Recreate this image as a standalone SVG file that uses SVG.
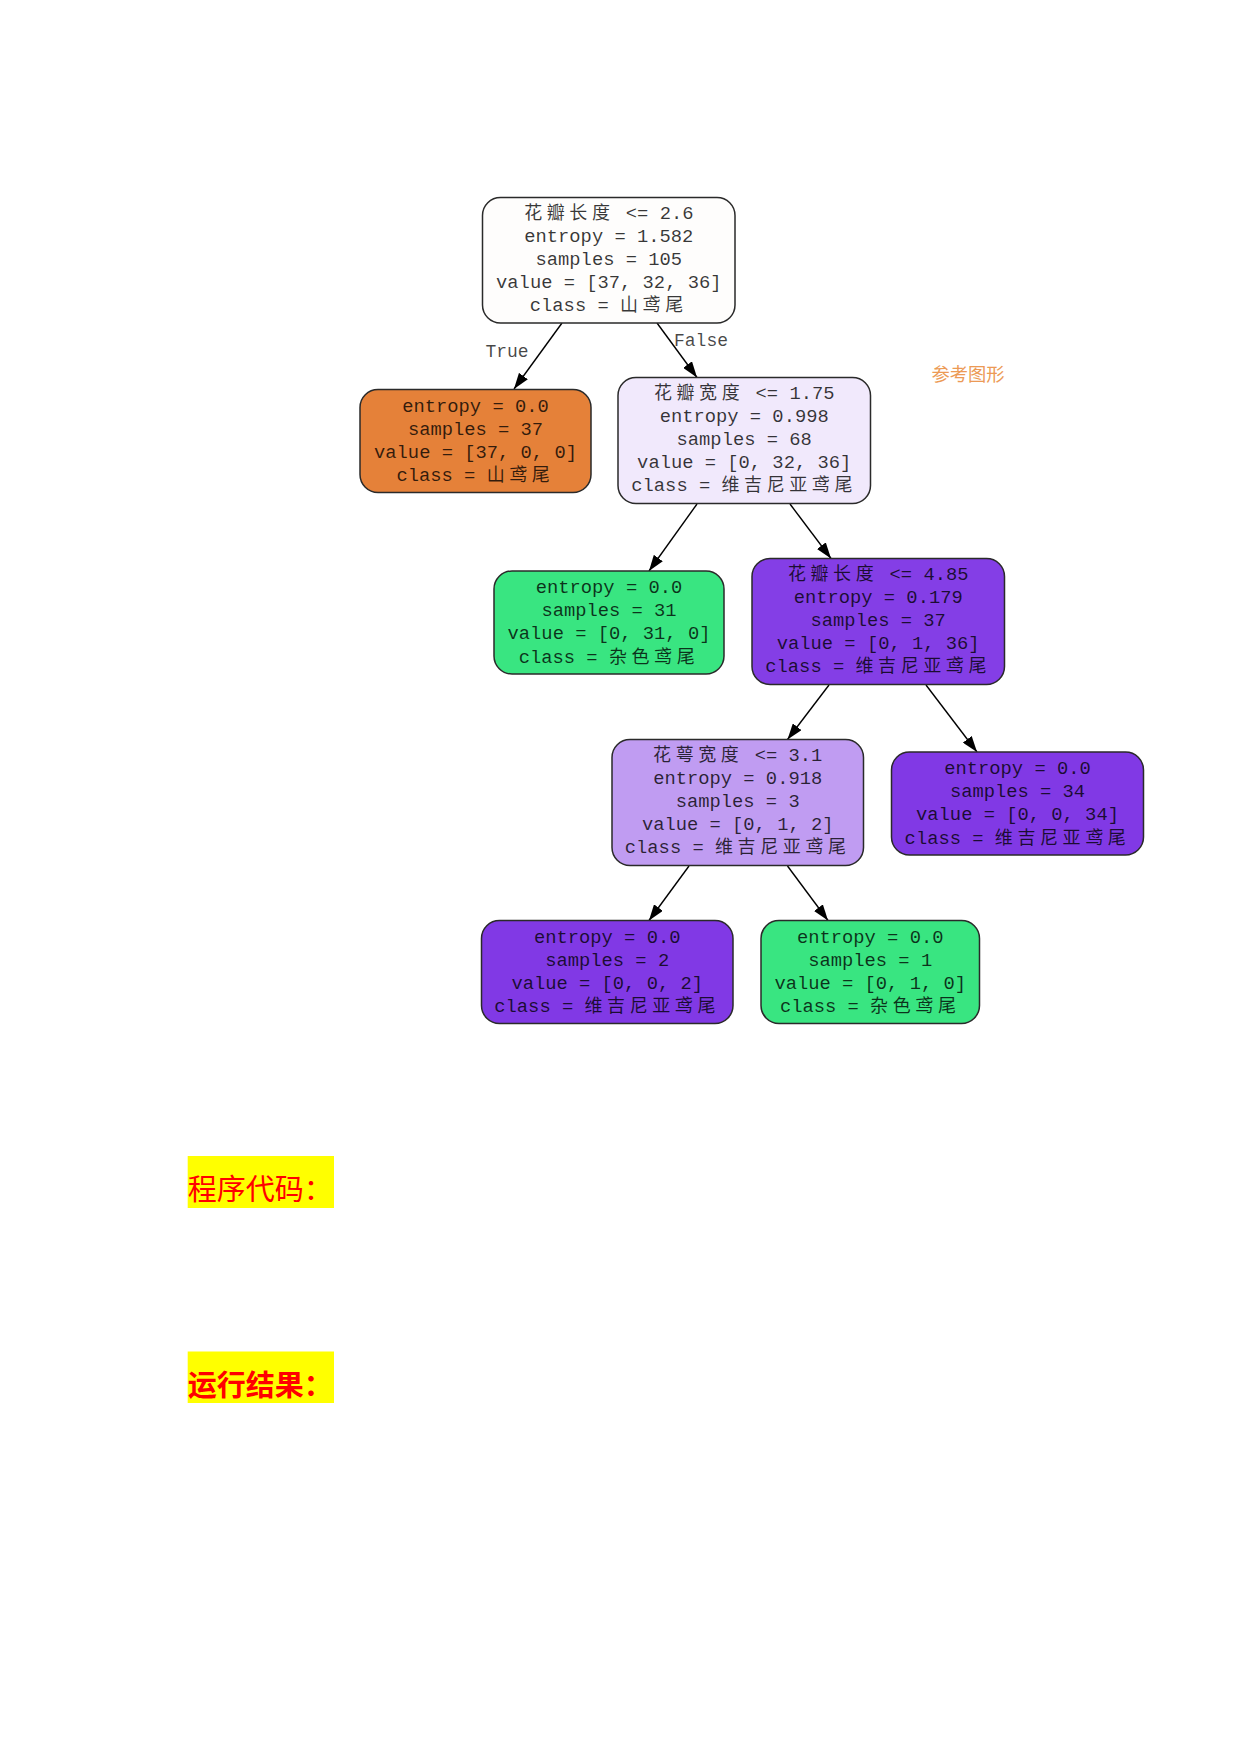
<svg xmlns="http://www.w3.org/2000/svg" width="1240" height="1753" viewBox="0 0 1240 1753">
<style>
.box{stroke:#2a2a2a;stroke-width:1.5}
.t{font-family:"Liberation Mono","DejaVu Sans Mono",monospace;font-size:18.8px;fill:#000;fill-opacity:0.78;text-anchor:middle}
.c{font-family:"Noto Sans CJK SC","Noto Sans CJK JP",sans-serif;font-size:18px;letter-spacing:4.6px}
.edge{stroke:#000;stroke-width:1.4;fill:none;marker-end:url(#arr)}
.lbl{font-family:"Liberation Mono","DejaVu Sans Mono",monospace;font-size:18px;fill:#000;fill-opacity:0.72;text-anchor:middle}
</style>
<defs>
<marker id="arr" viewBox="0 0 16 11" refX="16" refY="5.5" markerWidth="16" markerHeight="11" orient="auto" markerUnits="userSpaceOnUse">
<path d="M0,0 L16,5.5 L0,11 z" fill="#000"/>
</marker>
</defs>
<rect width="1240" height="1753" fill="#fff"/>

<g id="edges">
<line class="edge" x1="562" y1="323" x2="514" y2="389"/>
<line class="edge" x1="657" y1="323" x2="697" y2="377.5"/>
<line class="edge" x1="697" y1="504" x2="649" y2="571"/>
<line class="edge" x1="790" y1="504" x2="831" y2="558.5"/>
<line class="edge" x1="829" y1="685" x2="787.5" y2="739.5"/>
<line class="edge" x1="926" y1="685" x2="977" y2="752"/>
<line class="edge" x1="689" y1="866" x2="649" y2="920.5"/>
<line class="edge" x1="787.5" y1="866" x2="828" y2="920.5"/>
<text class="lbl" x="507" y="357">True</text>
<text class="lbl" x="701" y="346">False</text>
</g>

<g id="node0">
<rect class="box" x="482.5" y="197.5" width="252.5" height="125.5" rx="18" fill="#fefdfc"/>
<text class="t" x="608.8" y="218.5"><tspan class="c">花瓣长度</tspan> &lt;= 2.6</text>
<text class="t" x="608.8" y="241.7">entropy = 1.582</text>
<text class="t" x="608.8" y="264.9">samples = 105</text>
<text class="t" x="608.8" y="288.1">value = [37, 32, 36]</text>
<text class="t" x="608.8" y="311.3">class = <tspan class="c">山鸢尾</tspan></text>
</g>

<g id="node1">
<rect class="box" x="360" y="389.5" width="231" height="103" rx="18" fill="#e58139"/>
<text class="t" x="475.5" y="411.7">entropy = 0.0</text>
<text class="t" x="475.5" y="434.8">samples = 37</text>
<text class="t" x="475.5" y="457.9">value = [37, 0, 0]</text>
<text class="t" x="475.5" y="481">class = <tspan class="c">山鸢尾</tspan></text>
</g>

<g id="node2">
<rect class="box" x="618" y="377.5" width="252.5" height="126" rx="18" fill="#f1e9fc"/>
<text class="t" x="744.2" y="398.5"><tspan class="c">花瓣宽度</tspan> &lt;= 1.75</text>
<text class="t" x="744.2" y="421.7">entropy = 0.998</text>
<text class="t" x="744.2" y="444.9">samples = 68</text>
<text class="t" x="744.2" y="468.1">value = [0, 32, 36]</text>
<text class="t" x="744.2" y="491.3">class = <tspan class="c">维吉尼亚鸢尾</tspan></text>
</g>

<g id="node3">
<rect class="box" x="494" y="571" width="230" height="103" rx="18" fill="#39e581"/>
<text class="t" x="609" y="593.2">entropy = 0.0</text>
<text class="t" x="609" y="616.3">samples = 31</text>
<text class="t" x="609" y="639.4">value = [0, 31, 0]</text>
<text class="t" x="609" y="662.5">class = <tspan class="c">杂色鸢尾</tspan></text>
</g>

<g id="node4">
<rect class="box" x="752" y="558.5" width="252.5" height="126" rx="18" fill="#843ee6"/>
<text class="t" x="878.2" y="579.5"><tspan class="c">花瓣长度</tspan> &lt;= 4.85</text>
<text class="t" x="878.2" y="602.7">entropy = 0.179</text>
<text class="t" x="878.2" y="625.9">samples = 37</text>
<text class="t" x="878.2" y="649.1">value = [0, 1, 36]</text>
<text class="t" x="878.2" y="672.3">class = <tspan class="c">维吉尼亚鸢尾</tspan></text>
</g>

<g id="node5">
<rect class="box" x="612" y="739.5" width="251.5" height="126" rx="18" fill="#c09cf2"/>
<text class="t" x="737.7" y="760.5"><tspan class="c">花萼宽度</tspan> &lt;= 3.1</text>
<text class="t" x="737.7" y="783.7">entropy = 0.918</text>
<text class="t" x="737.7" y="806.9">samples = 3</text>
<text class="t" x="737.7" y="830.1">value = [0, 1, 2]</text>
<text class="t" x="737.7" y="853.3">class = <tspan class="c">维吉尼亚鸢尾</tspan></text>
</g>

<g id="node6">
<rect class="box" x="891.5" y="752" width="252" height="103" rx="18" fill="#8139e5"/>
<text class="t" x="1017.5" y="774.2">entropy = 0.0</text>
<text class="t" x="1017.5" y="797.3">samples = 34</text>
<text class="t" x="1017.5" y="820.4">value = [0, 0, 34]</text>
<text class="t" x="1017.5" y="843.5">class = <tspan class="c">维吉尼亚鸢尾</tspan></text>
</g>

<g id="node7">
<rect class="box" x="481.5" y="920.5" width="251.5" height="103" rx="18" fill="#8139e5"/>
<text class="t" x="607.2" y="942.7">entropy = 0.0</text>
<text class="t" x="607.2" y="965.8">samples = 2</text>
<text class="t" x="607.2" y="988.9">value = [0, 0, 2]</text>
<text class="t" x="607.2" y="1012">class = <tspan class="c">维吉尼亚鸢尾</tspan></text>
</g>

<g id="node8">
<rect class="box" x="761" y="920.5" width="218.5" height="103" rx="18" fill="#39e581"/>
<text class="t" x="870.2" y="942.7">entropy = 0.0</text>
<text class="t" x="870.2" y="965.8">samples = 1</text>
<text class="t" x="870.2" y="988.9">value = [0, 1, 0]</text>
<text class="t" x="870.2" y="1012">class = <tspan class="c">杂色鸢尾</tspan></text>
</g>

<g id="caption">
<text x="931.5" y="381" font-family="Noto Sans CJK SC, sans-serif" font-size="18.3" fill="#ec9a55">参考图形</text>
</g>

<g id="heading1">
<rect x="187.7" y="1156" width="146.3" height="52" fill="#ffff00"/>
<text x="187.7" y="1200" font-family="Noto Sans CJK SC, sans-serif" font-size="29" fill="#ff0000">程序代码：</text>
</g>

<g id="heading2">
<rect x="187.7" y="1351.5" width="146.3" height="51.5" fill="#ffff00"/>
<text x="187.7" y="1396" font-family="Noto Sans CJK SC, sans-serif" font-size="29" font-weight="bold" fill="#ff0000">运行结果：</text>
</g>
</svg>
